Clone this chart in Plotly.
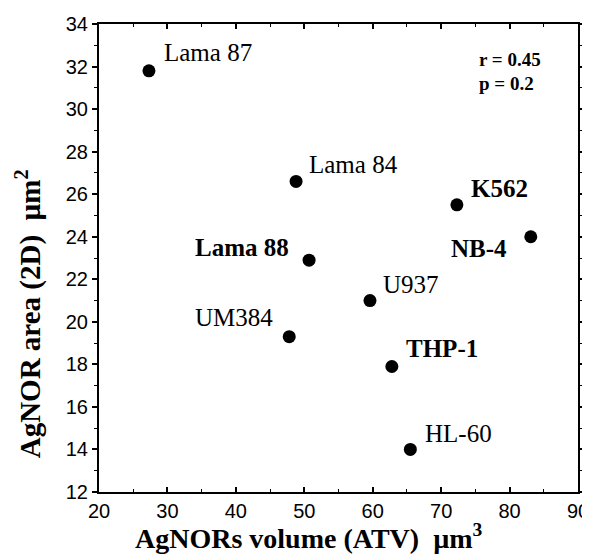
import plotly.graph_objects as go

cell_lines = ["Lama 87", "Lama 84", "K562", "NB-4", "Lama 88", "UM384", "U937", "THP-1", "HL-60"]
volume_atv = [27.3, 48.8, 72.3, 83.1, 50.7, 47.8, 59.6, 62.8, 65.5]
area_2d = [31.8, 26.6, 25.5, 24.0, 22.9, 19.3, 21.0, 17.9, 14.0]

x_ticks = [20, 30, 40, 50, 60, 70, 80, 90]
y_ticks = [12, 14, 16, 18, 20, 22, 24, 26, 28, 30, 32, 34]

# label styling: (bold, anchor side, xshift px, yshift px)
label_style = {
    "Lama 87": (False, "left", 14, 18),
    "Lama 84": (False, "left", 12, 17),
    "K562": (True, "left", 13, 16),
    "NB-4": (True, "right", -23, -12),
    "Lama 88": (True, "right", -19, 13),
    "UM384": (False, "right", -15, 19),
    "U937": (False, "left", 12, 16),
    "THP-1": (True, "left", 13, 18),
    "HL-60": (False, "left", 14, 16),
}

serif = "Liberation Serif, Times New Roman, serif"
sans = "Liberation Sans, Arial, sans-serif"

fig = go.Figure()
fig.add_trace(go.Scatter(
    x=volume_atv, y=area_2d, mode="markers",
    marker=dict(color="black", size=13),
    showlegend=False, hoverinfo="skip",
))

for name, xv, yv in zip(cell_lines, volume_atv, area_2d):
    b, side, xs, ys = label_style[name]
    txt = f"<b>{name}</b>" if b else name
    fig.add_annotation(x=xv, y=yv, text=txt, showarrow=False, xanchor=side,
                       yanchor="middle", xshift=xs, yshift=ys, borderpad=0,
                       font=dict(family=serif, size=25, color="black"))

fig.add_annotation(x=0.79, y=0.925, xref="paper", yref="paper", xanchor="left", yanchor="middle",
                   text="<b>r = 0.45</b>", showarrow=False,
                   font=dict(family=serif, size=19, color="black"))
fig.add_annotation(x=0.79, y=0.872, xref="paper", yref="paper", xanchor="left", yanchor="middle",
                   text="<b>p = 0.2</b>", showarrow=False,
                   font=dict(family=serif, size=19, color="black"))

# axis titles
fig.add_annotation(x=0.438, y=-0.096, xref="paper", yref="paper", xanchor="center", yanchor="middle",
                   text="<b>AgNORs volume (ATV)  µm<sup>3</sup></b>", showarrow=False,
                   font=dict(family=serif, size=28, color="black"))
fig.add_annotation(x=-0.148, y=0.38, xref="paper", yref="paper", xanchor="center", yanchor="middle",
                   text="<b>AgNOR area (2D)  µm<sup>2</sup></b>", showarrow=False, textangle=-90,
                   font=dict(family=serif, size=29, color="black"))

axis_common = dict(
    showgrid=False, zeroline=False, showline=True, linecolor="black", linewidth=2,
    mirror="allticks", tickwidth=1.5, tickcolor="black", automargin=False,
    tickfont=dict(family=sans, size=20, color="black"),
)

fig.update_xaxes(range=[20, 90], tickvals=x_ticks, ticks="inside", ticklen=5,
                 minor=dict(dtick=5, ticks="inside", ticklen=3, tickcolor="black", tickwidth=1),
                 **axis_common)
fig.update_yaxes(range=[12, 34], tickvals=y_ticks, ticks="outside", ticklen=5,
                 minor=dict(dtick=1, ticks="outside", ticklen=3, tickcolor="black", tickwidth=1),
                 **axis_common)

# the page body adds an 8px offset, so the figure is sized to fit the 590x555 window
fig.update_layout(
    width=582, height=547,
    margin=dict(l=91, r=12, t=16, b=63),
    plot_bgcolor="white", paper_bgcolor="white",
)

fig.write_html("out.html")
